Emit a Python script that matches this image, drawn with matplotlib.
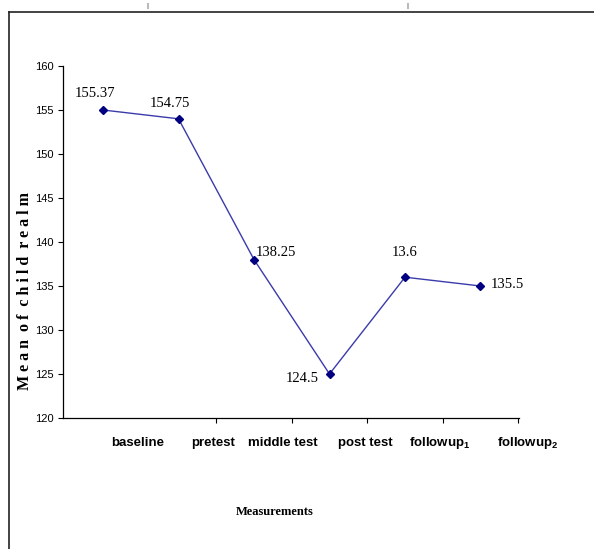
import matplotlib
matplotlib.use("Agg")
import matplotlib.pyplot as plt
from matplotlib.lines import Line2D

# data
categories = ["baseline", "pretest", "middle test", "post test",
              "followup$_1$", "followup$_2$"]
means = [155, 154, 138, 125, 136, 135]
point_labels = ["155.37", "154.75", "138.25", "124.5", "13.6", "135.5"]
y_ticks = [120, 125, 130, 135, 140, 145, 150, 155, 160]

sans = ["Liberation Sans", "DejaVu Sans"]
serif = ["Liberation Serif", "DejaVu Serif"]

plt.rcParams["mathtext.fontset"] = "custom"
plt.rcParams["mathtext.rm"] = "Liberation Sans:bold"
plt.rcParams["mathtext.it"] = "Liberation Sans:bold"
plt.rcParams["mathtext.default"] = "regular"

W, H = 594, 549
fig = plt.figure(figsize=(W / 100, H / 100), dpi=100)
ax = fig.add_axes([63 / W, 131 / H, 456 / W, 352 / H])

x = list(range(len(categories)))
ax.plot(x, means, color="#3b3bab", linewidth=1.0, marker="D",
        markersize=4.5, markerfacecolor="#000080", markeredgecolor="#000080")

# value labels (offsets in points)
offsets = [(-6, 12), (-6, 11), (16, 5), (-20, -3), (0, 18), (19, 1)]
for xi, yi, lab, off in zip(x, means, point_labels, offsets):
    ax.annotate(lab, (xi, yi), xytext=off, textcoords="offset points",
                ha="center", va="center", fontsize=10.5, family=serif)

ax.set_yticks(y_ticks)
ax.set_yticklabels([str(v) for v in y_ticks], family=sans, fontsize=8)

# boundary ticks on x axis (first one missing in the original)
ax.set_xticks([1.5, 2.5, 3.5, 4.5, 5.5])
ax.set_xticklabels([])
ax.tick_params(axis="both", which="major", length=3.5, width=0.8,
               direction="out")
ax.tick_params(axis="y", pad=3)

ax.set_xlim(-0.53, 5.51)
ax.set_ylim(120, 160)

# category names sit right of the points, a bit uneven as in the original
label_shift = [0.46, 0.46, 0.38, 0.48, 0.46, 0.62]
for xi, s, name in zip(x, label_shift, categories):
    ax.text(xi + s, -0.07, name, transform=ax.get_xaxis_transform(),
            ha="center", va="center", family=sans, fontsize=9.5,
            fontweight="bold", clip_on=False)

for s in ["top", "right"]:
    ax.spines[s].set_visible(False)
for s in ["left", "bottom"]:
    ax.spines[s].set_linewidth(0.9)

fig.text(25 / W, 1 - 291 / H, "M e a n  o f  c h i l d  r e a l m",
         rotation=90, ha="center", va="center", family=serif,
         fontweight="bold", fontsize=11.5)
fig.text(275 / W, 1 - 512 / H, "Measurements", ha="center", va="center",
         family=serif, fontweight="bold", fontsize=9)

# outer frame (left and top edges only)
fig.add_artist(Line2D([9 / W, 9 / W], [0, 1 - 12 / H], color="#222222",
                      linewidth=1.2, transform=fig.transFigure))
fig.add_artist(Line2D([9 / W, 1], [1 - 12 / H, 1 - 12 / H], color="#222222",
                      linewidth=1.2, transform=fig.transFigure))
for mx in [148, 408]:
    fig.add_artist(Line2D([mx / W, mx / W], [1 - 4 / H, 1 - 8 / H],
                          color="#bbbbbb", linewidth=1.5,
                          transform=fig.transFigure))

fig.savefig("out.png", dpi=100)
